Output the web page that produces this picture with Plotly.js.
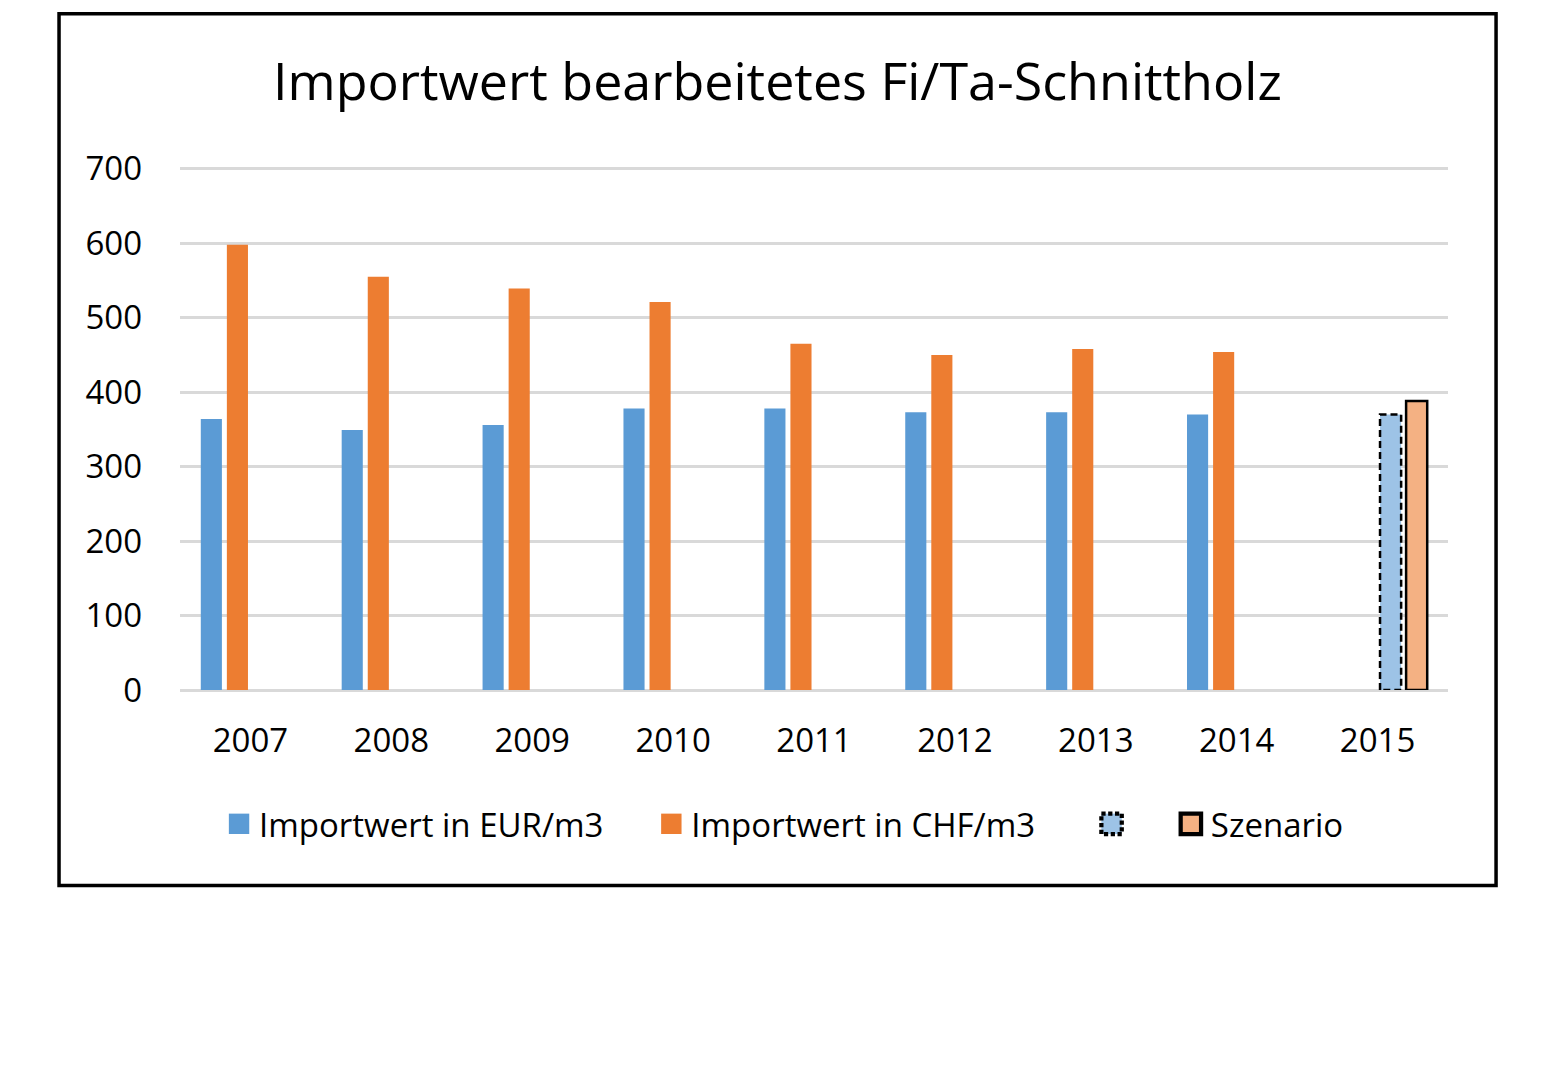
<!DOCTYPE html>
<html>
<head>
<meta charset="utf-8">
<script src="https://cdn.plot.ly/plotly-3.0.1.min.js"></script>
<style>
  body { margin: 0; background: #fff; }
  #chart { width: 1561px; height: 1081px; }
</style>
</head>
<body>
<div id="chart"></div>
<script>
var years = ['2007', '2008', '2009', '2010', '2011', '2012', '2013', '2014', '2015'];
var eurValues = [364, 349, 356, 378, 378, 373, 373, 370, null];
var chfValues = [598, 555, 539, 521, 465, 450, 458, 454, null];
var eurScenario = [null, null, null, null, null, null, null, null, 370];
var chfScenario = [null, null, null, null, null, null, null, null, 388];

var font = '"Open Sans", "Noto Sans", sans-serif';
var nb = '\u00a0';

var traces = [
    {
        x: years, y: eurValues, type: 'bar', name: 'Importwert in EUR/m3' + nb.repeat(5),
        marker: { color: '#5b9bd5' }
    },
    {
        x: years, y: chfValues, type: 'bar', name: 'Importwert in CHF/m3' + nb.repeat(6),
        marker: { color: '#ed7d31' }
    },
    {
        x: years, y: eurScenario, type: 'bar', name: nb.repeat(4),
        marker: { color: '#9dc3e6', line: { color: '#000', width: 2.5 } }
    },
    {
        x: years, y: chfScenario, type: 'bar', name: 'Szenario',
        marker: { color: '#f4b183', line: { color: '#000', width: 2.5 } }
    }
];

var layout = {
    width: 1561,
    height: 1081,
    margin: { l: 180, r: 113, t: 165, b: 391 },
    paper_bgcolor: '#fff',
    plot_bgcolor: '#fff',
    font: { family: font, color: '#000', size: 33 },
    title: {
        text: 'Importwert bearbeitetes Fi/Ta-Schnittholz',
        font: { family: font, size: 52, color: '#000' },
        xref: 'container', x: 0.498, xanchor: 'center',
        yref: 'container', y: 0.924, yanchor: 'middle'
    },
    barmode: 'group',
    bargap: 0.26,
    bargroupgap: 0.19,
    xaxis: {
        type: 'category',
        showgrid: false,
        showline: false,
        ticks: '',
        ticklabelstandoff: 28,
        tickfont: { size: 33 }
    },
    yaxis: {
        range: [0, 705],
        tickvals: [0, 100, 200, 300, 400, 500, 600, 700],
        showgrid: true,
        gridcolor: '#d9d9d9',
        gridwidth: 2.5,
        zeroline: true,
        zerolinecolor: '#d9d9d9',
        zerolinewidth: 2.5,
        showline: false,
        ticks: '',
        ticklabelstandoff: 37,
        tickfont: { size: 33 }
    },
    showlegend: true,
    legend: {
        orientation: 'h',
        x: 0.0308, xanchor: 'left',
        y: -0.255, yanchor: 'middle',
        font: { size: 33 },
        itemwidth: 30,
        traceorder: 'normal'
    },
    shapes: [{
        type: 'rect', xref: 'paper', yref: 'paper',
        x0: -0.0954, x1: 1.0379, y0: -0.3726, y1: 1.2883,
        line: { color: '#000', width: 3.5 }
    }]
};

Plotly.newPlot('chart', traces, layout, { displayModeBar: false }).then(function(gd) {
    // dashed outline for the EUR scenario bar
    var barTraces = gd.querySelectorAll('.barlayer .trace');
    barTraces[2].querySelectorAll('path').forEach(function(p) {
        p.style.strokeDasharray = '7,4';
    });
    // bigger legend squares, dashed one for the scenario entry
    var legendItems = gd.querySelectorAll('.legend .traces');
    legendItems.forEach(function(item, i) {
        item.querySelectorAll('.legendpoints path').forEach(function(p) {
            var t = p.getAttribute('transform') || '';
            p.setAttribute('transform', t + ' scale(1.7)');
            if (i === 2) p.style.strokeDasharray = '2.5,1.5';
        });
    });
});
</script>
</body>
</html>
